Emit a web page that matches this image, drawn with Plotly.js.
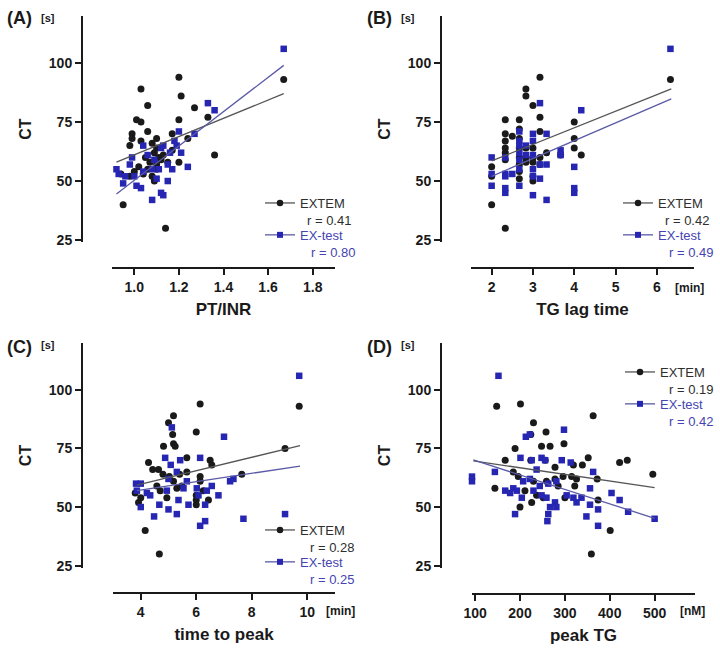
<!DOCTYPE html>
<html>
<head>
<meta charset="utf-8">
<script src="https://cdn.plot.ly/plotly-3.0.1.min.js"></script>
<style>body{margin:0;background:#fff}</style>
</head>
<body>
<div id="chart" style="width:720px;height:655px"></div>
<script>
//------------------------------------------------------------------------------
// values
//------------------------------------------------------------------------------
var ct_ticks = [25, 50, 75, 100];

// (A) PT/INR
var inr_extem_x = [1.67,1.20,1.21,1.03,1.06,1.27,1.33,1.20,1.01,1.03,1.06,0.99,0.99,1.03,1.10,1.17,1.24,0.98,1.36,1.20,0.95,1.14,1.17,1.08,1.10,1.09,1.11,1.07,1.10,1.12,1.06,1.04,1.08,1.13,1.15,1.05,1.02,1.00,0.98,1.10,1.09,0.94];
var inr_extem_ct = [93,94,86,89,82,81,77,76,76,75,71,70,68,67,68,70,68,65,61,58,40,30,63,66,64,62,60,58,57,59,55,53,52,61,58,60,56,54,52,55,50,53];
var inr_extest_x = [1.67,1.33,1.36,1.27,1.20,1.21,1.24,1.16,1.18,0.92,0.93,0.95,0.99,1.00,1.01,1.03,1.08,1.12,1.13,1.10,1.08,1.15,1.12,1.13,1.06,1.09,1.11,1.04,1.15,1.17,0.96,0.98,1.04,1.19];
var inr_extest_ct = [106,83,80,70,71,62,56,62,67,55,53,49,60,52,48,47,42,45,44,51,55,57,64,65,61,59,55,54,50,55,52,57,65,65];
var inr_fit_x = [0.92, 1.67];
var inr_fit_extem = [58, 87];
var inr_fit_extest = [44.5, 99];
var inr_ticks = [1.0, 1.2, 1.4, 1.6, 1.8];
var inr_ticktext = ['1.0', '1.2', '1.4', '1.6', '1.8'];
var inr_r = ['0.41', '0.80'];

// (B) TG lag time [min]
var lag_extem_x = [2,2,2, 2.33,2.33,2.33,2.33,2.33,2.33,2.33, 2.5, 2.67,2.67,2.67,2.67,2.67,2.67,2.67,2.67, 2.83,2.83,2.83,2.83,2.83, 3,3,3,3,3,3, 3.17,3.17,3.17,3.17,3.17, 3.33, 3.67, 4,4,4, 4.17, 6.33];
var lag_extem_ct = [52,56,40, 76,70,67,64,62,59,30, 69, 76,72,68,64,60,57,54,51, 89,86,64,60,58, 82,64,60,58,52,50, 94,77,71,60,57, 62, 61, 75,68,64, 61, 93];
var lag_extest_x = [2,2,2, 2.33,2.33,2.33,2.33,2.33, 2.5, 2.67,2.67,2.67,2.67,2.67,2.67,2.67, 2.83,2.83, 3,3,3,3,3,3, 3.17,3.17,3.17, 3.33,3.33,3.33, 3.67,3.67, 4,4,4, 4.17, 6.33];
var lag_extest_ct = [60,48,53, 60,53,47,45,52, 53, 71,67,62,59,55,48,65, 65,61, 70,67,61,55,52,44, 83,51,57, 70,57,42, 63,61, 56,47,45, 80, 106];
var lag_fit_x = [2.0, 6.35];
var lag_fit_extem = [58.5, 89];
var lag_fit_extest = [52, 84.8];
var lag_ticks = [2, 3, 4, 5, 6];
var lag_r = ['0.42', '0.49'];

// (C) time to peak [min]
var ttp_extem_x = [9.71,9.2,6.14,6.0,5.18,5.0,5.15,4.82,5.18,5.24,5.66,4.28,4.64,4.8,4.43,6.5,6.56,7.64,5.66,6.14,6.14,5.18,5.3,4.58,4.7,5.03,5.4,3.8,4.0,3.92,4.16,4.67,6.0,6.0,6.0,6.25,5.48,4.94,6.44];
var ttp_extem_ct = [93,75,94,82,89,86,81,76,77,76,71,69,66,64,66,70,68,64,65,63,61,61,58,59,57,63,64,56,54,52,40,30,55,53,51,57,59,54,53];
var ttp_extest_x = [9.71,7.0,5.12,4.88,6.14,5.08,5.42,5.3,5.0,3.83,4.0,3.86,4.34,4.0,4.48,4.67,4.94,5.0,5.3,5.36,5.54,5.72,6.14,6.32,6.32,6.38,6.56,6.8,7.22,7.34,7.7,9.2,5.66,6.02,6.08,4.22];
var ttp_extest_ct = [106,80,84,71,71,68,70,65,62,60,60,57,55,50,46,51,57,49,47,53,58,51,42,44,51,57,59,55,61,62,45,47,61,58,55,56];
var ttp_fit_x = [3.86, 9.74];
var ttp_fit_extem = [59.4, 76.2];
var ttp_fit_extest = [57, 67.5];
var ttp_ticks = [4, 6, 8, 10];
var ttp_r = ['0.28', '0.25'];

// (D) peak TG [nM]
var peak_extem_x = [148,201,363,230,224,258,248,267,298,189,167,224,256,278,319,352,339,422,439,496,372,185,196,296,315,326,322,230,259,285,144,211,237,252,300,226,374,401,359,278,200];
var peak_extem_ct = [93,94,89,86,81,82,76,76,77,75,70,70,70,67,68,71,68,69,70,64,62,65,63,63,63,62,59,61,61,59,58,57,55,54,54,52,53,40,30,62,50];
var peak_extest_x = [152,298,213,222,201,226,248,256,293,313,363,144,93,93,237,222,207,244,263,281,167,185,178,193,204,230,248,259,278,281,304,319,337,326,356,356,348,374,374,404,422,441,500,189,263,261,267];
var peak_extest_ct = [106,83,80,81,71,70,71,70,70,69,65,65,63,61,66,62,61,59,60,61,57,58,56,57,54,57,55,54,52,50,55,54,54,52,58,51,46,49,42,56,53,48,45,47,47,44,50];
var peak_fit_x = [96, 500];
var peak_fit_extem = [69.7, 58.3];
var peak_fit_extest = [70.1, 45.2];
var peak_ticks = [100, 200, 300, 400, 500];
var peak_r = ['0.19', '0.42'];

//------------------------------------------------------------------------------
// styling
//------------------------------------------------------------------------------
var W = 720, H = 655;
var INK = '#1a1a1a';
var BLUE = '#2626b2';
var BLUE_TXT = '#4444b2';
var KEY_TXT = '#2e2e2e';
var FIT_GREY = '#555555';
var FIT_BLUE = '#5a5aa6';
var FONT = 'Arial, "Liberation Sans", sans-serif';
var KEY_SIZE = 13;

function px(x) { return x / W; }
function py(y) { return 1 - y / H; }

function points(x, y, xa, ya, blue) {
  return {
    type: 'scatter', mode: 'markers', x: x, y: y, xaxis: xa, yaxis: ya,
    showlegend: false, cliponaxis: false, hoverinfo: 'skip',
    marker: blue ? {symbol: 'square', size: 6.5, color: BLUE}
                 : {symbol: 'circle', size: 7, color: INK}
  };
}

function fit(x, y, xa, ya, blue) {
  return {
    type: 'scatter', mode: 'lines', x: x, y: y, xaxis: xa, yaxis: ya,
    showlegend: false, hoverinfo: 'skip',
    line: {color: blue ? FIT_BLUE : FIT_GREY, width: 1.3}
  };
}

// legend-only entries (line with a marker, as in the original key)
function key(xa, ya, lg, blue) {
  return {
    type: 'scatter', mode: 'lines+markers', x: [null], y: [null], xaxis: xa, yaxis: ya,
    legend: lg, legendgroup: lg + (blue ? 'b' : 'k'), hoverinfo: 'skip',
    name: blue ? '<span style="color:' + BLUE_TXT + '">EX-test</span>' : 'EXTEM',
    line: {color: blue ? FIT_BLUE : FIT_GREY, width: 1.3},
    marker: blue ? {symbol: 'square', size: 6, color: BLUE}
                 : {symbol: 'circle', size: 6.5, color: INK}
  };
}

function xAxis(dom, pos, rng, vals, txt, title) {
  return {
    domain: dom, anchor: 'free', position: pos, range: rng,
    tickmode: 'array', tickvals: vals, ticktext: txt,
    showline: true, linewidth: 2, linecolor: INK,
    ticks: 'outside', ticklen: 6, tickwidth: 2, tickcolor: INK,
    showgrid: false, zeroline: false, fixedrange: true,
    tickfont: {family: FONT, size: 14, weight: 'bold', color: INK},
    title: {text: title, standoff: 8, font: {family: FONT, size: 17, weight: 'bold', color: INK}}
  };
}

function yAxis(dom, pos) {
  return {
    domain: dom, anchor: 'free', position: pos, range: [24, 120],
    tickmode: 'array', tickvals: ct_ticks,
    showline: true, linewidth: 2, linecolor: INK,
    ticks: 'outside', ticklen: 6, tickwidth: 2, tickcolor: INK,
    showgrid: false, zeroline: false, fixedrange: true,
    tickfont: {family: FONT, size: 14, weight: 'bold', color: INK},
    title: {text: 'CT', standoff: 12, font: {family: FONT, size: 16, weight: 'bold', color: INK}}
  };
}

function legendBox(x, y) {
  return {
    x: px(x), y: py(y), xanchor: 'left', yanchor: 'top',
    bgcolor: 'rgba(0,0,0,0)', borderwidth: 0,
    itemwidth: 30, tracegroupgap: 12,
    font: {family: FONT, size: KEY_SIZE, color: KEY_TXT}
  };
}

function label(text, x, y, size, anchor) {
  return {
    xref: 'paper', yref: 'paper', x: px(x), y: py(y), xanchor: anchor || 'center', yanchor: 'middle',
    text: text, showarrow: false,
    font: {family: FONT, size: size, weight: 'bold', color: INK}
  };
}

function rText(r, xRight, y, blue) {
  return {
    xref: 'paper', yref: 'paper', x: px(xRight), y: py(y), xanchor: 'right', yanchor: 'middle',
    text: 'r = ' + r, showarrow: false, borderpad: 0,
    font: {family: FONT, size: KEY_SIZE, color: blue ? BLUE_TXT : KEY_TXT}
  };
}

//------------------------------------------------------------------------------
// traces
//------------------------------------------------------------------------------
var data = [
  points(inr_extem_x, inr_extem_ct, 'x', 'y', false),
  points(inr_extest_x, inr_extest_ct, 'x', 'y', true),
  fit(inr_fit_x, inr_fit_extem, 'x', 'y', false),
  fit(inr_fit_x, inr_fit_extest, 'x', 'y', true),
  key('x', 'y', 'legend', false),
  key('x', 'y', 'legend', true),

  points(lag_extem_x, lag_extem_ct, 'x2', 'y2', false),
  points(lag_extest_x, lag_extest_ct, 'x2', 'y2', true),
  fit(lag_fit_x, lag_fit_extem, 'x2', 'y2', false),
  fit(lag_fit_x, lag_fit_extest, 'x2', 'y2', true),
  key('x2', 'y2', 'legend2', false),
  key('x2', 'y2', 'legend2', true),

  points(ttp_extem_x, ttp_extem_ct, 'x3', 'y3', false),
  points(ttp_extest_x, ttp_extest_ct, 'x3', 'y3', true),
  fit(ttp_fit_x, ttp_fit_extem, 'x3', 'y3', false),
  fit(ttp_fit_x, ttp_fit_extest, 'x3', 'y3', true),
  key('x3', 'y3', 'legend3', false),
  key('x3', 'y3', 'legend3', true),

  points(peak_extem_x, peak_extem_ct, 'x4', 'y4', false),
  points(peak_extest_x, peak_extest_ct, 'x4', 'y4', true),
  fit(peak_fit_x, peak_fit_extem, 'x4', 'y4', false),
  fit(peak_fit_x, peak_fit_extest, 'x4', 'y4', true),
  key('x4', 'y4', 'legend4', false),
  key('x4', 'y4', 'legend4', true)
];

var topRow = [py(242.4), py(15.8)];
var botRow = [py(568), py(343)];

var layout = {
  width: W, height: H,
  margin: {l: 0, r: 0, t: 0, b: 0},
  paper_bgcolor: 'white', plot_bgcolor: 'rgba(0,0,0,0)',
  font: {family: FONT, color: INK},
  hovermode: false, dragmode: false,
  showlegend: true,

  xaxis: xAxis([px(112), px(335)], py(268), [0.9, 1.9], inr_ticks, inr_ticktext, 'PT/INR'),
  yaxis: yAxis(topRow, px(82)),
  xaxis2: xAxis([px(471), px(694)], py(268), [1.5, 6.9], lag_ticks, null, 'TG lag time'),
  yaxis2: yAxis(topRow, px(441)),
  xaxis3: xAxis([px(113), px(335)], py(593), [3, 11], ttp_ticks, null, 'time to peak'),
  yaxis3: yAxis(botRow, px(82)),
  xaxis4: xAxis([px(472), px(695)], py(594), [93, 590], peak_ticks, null, 'peak TG'),
  yaxis4: yAxis(botRow, px(441)),

  legend: legendBox(260, 188),
  legend2: legendBox(618, 188),
  legend3: legendBox(260, 515),
  legend4: legendBox(620, 357),

  annotations: [
    label('(A)', 19, 18, 18), label('(B)', 379, 18, 18),
    label('(C)', 19, 347, 18), label('(D)', 379, 347, 18),
    label('[s]', 48, 18, 11), label('[s]', 408, 18, 11),
    label('[s]', 48, 345, 11), label('[s]', 408, 345, 11),
    label('[min]', 673, 288, 12, 'left'),
    label('[min]', 324, 611, 12, 'left'),
    label('[nM]', 678, 611, 12, 'left'),
    rText(inr_r[0], 352, 220, false), rText(inr_r[1], 356, 252, true),
    rText(lag_r[0], 710, 220, false), rText(lag_r[1], 714, 252, true),
    rText(ttp_r[0], 355, 547, false), rText(ttp_r[1], 355, 579, true),
    rText(peak_r[0], 714, 389, false), rText(peak_r[1], 714, 421, true)
  ]
};

Plotly.newPlot('chart', data, layout, {displayModeBar: false, staticPlot: true});
</script>
</body>
</html>
